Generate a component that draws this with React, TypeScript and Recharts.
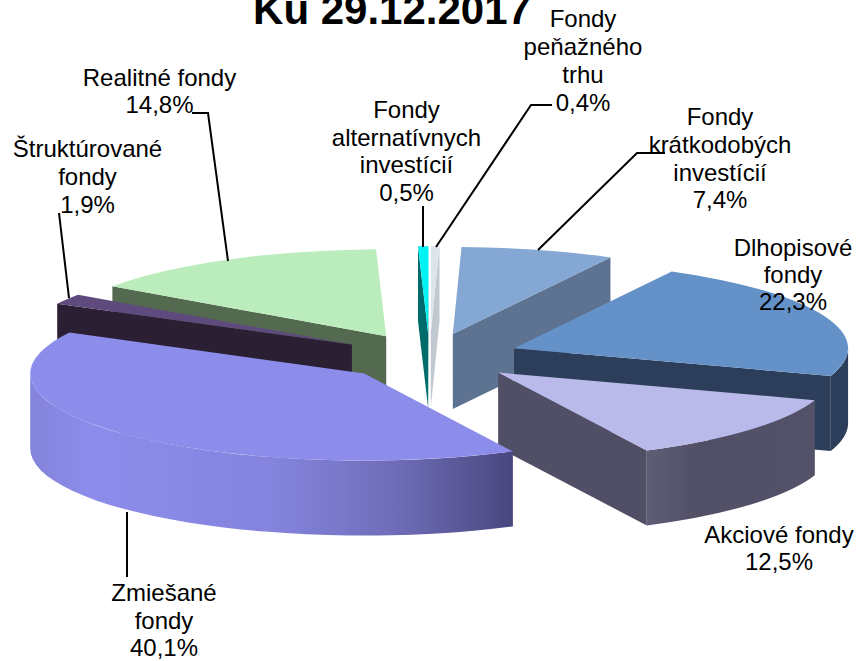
import React from "react";
import { PieChart, Pie } from "recharts";

const TITLE = "Ku 29.12.2017";
const NAMES = ["krat", "dlho", "akci", "zmie", "stru", "real", "alte", "pena"];
const VALUES = [7.4, 22.3, 12.5, 40.1, 1.9, 14.8, 0.5, 0.4];
const PERCENTS = ["7,4%", "22,3%", "12,5%", "40,1%", "1,9%", "14,8%", "0,5%", "0,4%"];
const LABELS = [
  ["Fondy", "krátkodobých", "investícií"],
  ["Dlhopisové", "fondy"],
  ["Akciové fondy"],
  ["Zmiešané", "fondy"],
  ["Štruktúrované", "fondy"],
  ["Realitné fondy"],
  ["Fondy", "alternatívnych", "investícií"],
  ["Fondy", "peňažného", "trhu"],
];
const TOPS = ["#84A7D3", "#6492C8", "#BABAEA", "#8C8CEA", "#5E4A7C", "#BBEDBC", "#00F2F2", "#DDE4EC"];
const SIDES = ["#5D7391", "#2C3E59", "#504F66", "#8888E4", "#2A1F33", "#546A50", "#006B6B", "#C2C8D0"];
const DRAW_ORDER = ["alte", "pena", "real", "stru", "krat", "dlho", "akci", "zmie"];

const W = 859, H = 661;
const CX = 429.5, CY = 357, RX = 334, RY = 87, DEPTH = 75, EXPLODE = 91;
const FONT = "'Liberation Sans', Arial, sans-serif";
const FS = 24;

// label layout: centre x, first baseline, line gap, leader polyline
const LAYOUT: Record<string, { x: number; y: number; gap: number; line: number[][] }> = {
  krat: { x: 720, y: 125, gap: 27.8, line: [[665, 153], [637, 153], [538, 250]] },
  dlho: { x: 793, y: 256, gap: 27, line: [] },
  akci: { x: 779, y: 543, gap: 27, line: [] },
  zmie: { x: 164, y: 601, gap: 27.5, line: [[127, 512], [127, 577]] },
  stru: { x: 87.5, y: 157, gap: 28, line: [[59, 213], [69, 298]] },
  real: { x: 159.5, y: 86, gap: 27, line: [[192, 113], [208, 113], [228, 261]] },
  alte: { x: 406.5, y: 118, gap: 27.7, line: [[423, 206], [423, 247]] },
  pena: { x: 583, y: 27, gap: 28, line: [[552, 105], [531, 105], [436, 247]] },
};

const rows = NAMES.map((name, i) => ({ name, value: VALUES[i] }));

const toT = (polar: number) => ((90 - polar) * Math.PI) / 180;

function Slice3D({ startAngle, endAngle, name, payload }: any) {
  const key = payload?.name ?? name;
  const i = NAMES.indexOf(key);
  const a = toT(startAngle);
  const b = toT(endAngle);
  const mid = (a + b) / 2;
  const ax = CX + (EXPLODE * Math.sin(mid));
  const ay = CY - (EXPLODE * (RY / RX) * Math.cos(mid));
  const pt = (t: number, dz = 0): [number, number] => [
    ax + RX * Math.sin(t),
    ay - RY * Math.cos(t) + dz,
  ];
  const arc = (t0: number, t1: number, dz = 0, sweep = 1) => {
    const [x, y] = pt(t1, dz);
    const large = Math.abs(t1 - t0) > Math.PI ? 1 : 0;
    return `A ${RX} ${RY} 0 ${large} ${sweep} ${x} ${y}`;
  };
  const poly = (p: number[][]) => "M" + p.map((q) => q.join(" ")).join("L") + "Z";
  const P = (t: number, dz = 0) => pt(t, dz) as number[];
  const faces: React.ReactNode[] = [];
  const norm = (t: number) => ((t % (2 * Math.PI)) + 2 * Math.PI) % (2 * Math.PI);
  const nb = norm(b);
  const na = norm(a);
  const side = SIDES[i];
  // start radial wall, visible when it looks at the viewer
  if (na > Math.PI) {
    faces.push(<path key="s" d={poly([[ax, ay], P(a), P(a, DEPTH), [ax, ay + DEPTH]])} fill={side} />);
  }
  if (nb < Math.PI) {
    faces.push(<path key="e" d={poly([[ax, ay], P(b), P(b, DEPTH), [ax, ay + DEPTH]])} fill={side} />);
  }
  // outer wall for the front half
  const lo = Math.max(a, Math.PI / 2);
  const hi = Math.min(b, (3 * Math.PI) / 2);
  let defs = null;
  if (hi > lo) {
    const d = `M${P(lo).join(" ")} ${arc(lo, hi)} L${P(hi, DEPTH).join(" ")} ${arc(hi, lo, DEPTH, 0)} Z`;
    const id = `wall-${key}`;
    if (key === "zmie") {
      defs = (
        <linearGradient id={id} gradientUnits="userSpaceOnUse" x1="31" x2="515" y1="0" y2="0">
          <stop offset="0" stopColor="#8484DC" />
          <stop offset="0.12" stopColor="#8C8CEB" />
          <stop offset="0.5" stopColor="#8484DE" />
          <stop offset="0.75" stopColor="#6F6DB8" />
          <stop offset="1" stopColor="#48467E" />
        </linearGradient>
      );
    } else if (key === "akci") {
      defs = (
        <linearGradient id={id} gradientUnits="userSpaceOnUse" x1="648" x2="815" y1="0" y2="0">
          <stop offset="0" stopColor="#5F5D76" />
          <stop offset="0.3" stopColor="#504F66" />
          <stop offset="1" stopColor="#535268" />
        </linearGradient>
      );
    }
    faces.push(<path key="o" d={d} fill={defs ? `url(#${id})` : side} />);
  }
  const top = `M${ax} ${ay} L${P(a).join(" ")} ${arc(a, b)} Z`;
  return (
    <g>
      {defs && <defs>{defs}</defs>}
      {faces}
      <path d={top} fill={TOPS[i]} />
    </g>
  );
}

function renderLabel(props: any) {
  const i = props.index as number;
  const key = NAMES[i];
  const l = LAYOUT[key];
  const lines = [...LABELS[i], PERCENTS[i]];
  return (
    <g key={key}>
      {l.line.length > 0 && (
        <polyline points={l.line.map((p) => p.join(",")).join(" ")} fill="none" stroke="#000" strokeWidth={2} />
      )}
      {lines.map((t, j) => (
        <text key={j} x={l.x} y={l.y + j * l.gap} textAnchor="middle" fontFamily={FONT} fontSize={FS} fill="#000">
          {t}
        </text>
      ))}
    </g>
  );
}

export default function App() {
  return (
    <div style={{ position: "absolute", left: 0, top: 0, width: W, height: H, overflow: "hidden" }}>
      <PieChart width={W} height={H} margin={{ top: 0, right: 0, bottom: 0, left: 0 }}>
        {DRAW_ORDER.map((only, n) => (
          <Pie
            key={only}
            data={rows}
            dataKey="value"
            nameKey="name"
            cx={CX}
            cy={CY}
            innerRadius={0}
            outerRadius={RX}
            startAngle={88.5}
            endAngle={-271.5}
            stroke="none"
            isAnimationActive={false}
            labelLine={false}
            label={n === DRAW_ORDER.length - 1 ? renderLabel : false}
            shape={(p: any) => ((p.payload?.name ?? p.name) === only ? <Slice3D {...p} /> : <g />)}
          />
        ))}
        <text x={392} y={24} textAnchor="middle" fontFamily={FONT} fontWeight="bold" fontSize={42} fill="#000">
          {TITLE}
        </text>
      </PieChart>
    </div>
  );
}
